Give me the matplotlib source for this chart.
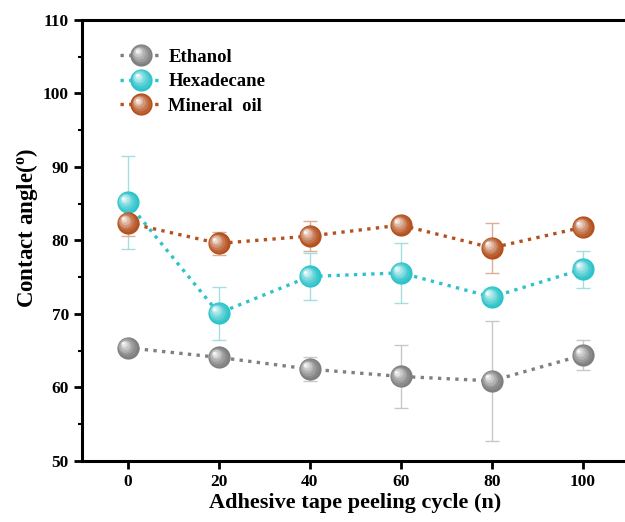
import numpy as np
import matplotlib
matplotlib.use("Agg")
import matplotlib.pyplot as plt
from matplotlib.transforms import ScaledTranslation
from matplotlib.legend_handler import HandlerBase
from matplotlib.lines import Line2D
from matplotlib.colors import to_rgb

# ---- data ----
cycles = [0, 20, 40, 60, 80, 100]
ethanol = [65.4, 64.1, 62.5, 61.5, 60.9, 64.4]
ethanol_err = [0.8, 0.8, 1.6, 4.3, 8.2, 2.0]
hexadecane = [85.2, 70.1, 75.1, 75.6, 72.3, 76.1]
hexadecane_err = [6.3, 3.6, 3.2, 4.1, 1.0, 2.5]
mineral = [82.4, 79.6, 80.6, 82.1, 79.0, 81.8]
mineral_err = [1.8, 1.6, 2.0, 0.6, 3.4, 0.6]
series_names = ["Ethanol", "Hexadecane", "Mineral  oil"]
yticks = [50, 60, 70, 80, 90, 100, 110]
xticks = [0, 20, 40, 60, 80, 100]
xlabel = "Adhesive tape peeling cycle (n)"
ylabel = r"Contact angle($^{\mathregular{o}}$)"

colors = ["#7f7f7f", "#2cc3c9", "#b4511e"]
err_colors = ["#c8c8c8", "#a5dde0", "#dcae94"]

plt.rcParams['font.family'] = ['Liberation Serif', 'DejaVu Serif']
plt.rcParams['font.weight'] = 'bold'
plt.rcParams['mathtext.default'] = 'regular'

fig = plt.figure(figsize=(6.25, 5.22), dpi=100)
ax = fig.add_axes([0.1312, 0.1169, 0.8744, 0.8448])

MS = 16.0  # marker size in points
N_LAYERS = 7


def layer_params(k, base):
    f = k / (N_LAYERS - 1)
    size = MS * (1 - 0.88 * f)
    c = np.array(to_rgb(base))
    col = c + (np.ones(3) - c) * (f ** 1.3) * 0.97
    off = 0.045 * f  # inches toward upper-left
    return size, col, off


def draw_spheres(ax, x, y, base, z):
    for k in range(N_LAYERS):
        size, col, off = layer_params(k, base)
        tr = ax.transData + ScaledTranslation(-off, off, fig.dpi_scale_trans)
        ax.plot(x, y, linestyle='none', marker='o', markersize=size,
                markerfacecolor=col, markeredgecolor='none', transform=tr,
                zorder=z + k * 0.01)


data = [(ethanol, ethanol_err), (hexadecane, hexadecane_err), (mineral, mineral_err)]
handles = []
for i, ((vals, errs), c, ec, name) in enumerate(zip(data, colors, err_colors, series_names)):
    ax.errorbar(cycles, vals, yerr=errs, fmt='none', ecolor=ec, elinewidth=1.0,
                capsize=5, capthick=1.0, zorder=2)
    ax.plot(cycles, vals, linestyle=(0, (1, 1.6)), linewidth=2.4, color=c, zorder=3)
    draw_spheres(ax, cycles, vals, c, 4 + i)
    handles.append(Line2D([], [], color=c, label=name))


class SphereHandler(HandlerBase):
    def create_artists(self, legend, orig_handle, xdescent, ydescent, width,
                       height, fontsize, trans):
        c = orig_handle.get_color()
        yc = height / 2 - ydescent
        arts = []
        ln = Line2D([-xdescent, width - xdescent], [yc, yc], color=c,
                    linestyle=(0, (1, 1.6)), linewidth=2.4, transform=trans)
        arts.append(ln)
        xc = width / 2 - xdescent
        for k in range(N_LAYERS):
            size, col, off = layer_params(k, c)
            offp = off * 72
            m = Line2D([xc - offp], [yc + offp], linestyle='none', marker='o',
                       markersize=size, markerfacecolor=col,
                       markeredgecolor='none', transform=trans)
            arts.append(m)
        return arts


leg = ax.legend(handles=handles, handler_map={Line2D: SphereHandler()},
                loc='upper left', bbox_to_anchor=(0.045, 0.965), frameon=False,
                fontsize=13.5, handlelength=2.3, handletextpad=0.3,
                labelspacing=0.4, borderaxespad=0.3)
for t in leg.get_texts():
    t.set_fontweight('bold')

ax.set_xlim(-10, 110)
ax.set_ylim(50, 110)
ax.set_xticks(xticks)
ax.set_yticks(yticks)
ax.set_yticks(np.arange(55, 110, 10), minor=True)
ax.tick_params(axis='both', which='major', direction='out', length=5.5, width=2,
               labelsize=12.5, pad=4)
ax.tick_params(axis='y', which='minor', direction='out', length=3, width=1.5)
for lab in ax.get_xticklabels() + ax.get_yticklabels():
    lab.set_fontweight('bold')

for s in ['left', 'bottom', 'top']:
    ax.spines[s].set_linewidth(2.2)
ax.spines['right'].set_visible(False)

ax.set_xlabel(xlabel, fontsize=16, fontweight='bold', labelpad=2)
ax.set_ylabel(ylabel, fontsize=16.5, fontweight='bold', labelpad=6)
ax.yaxis.set_label_coords(-0.077, 0.528)

fig.savefig("out.png", dpi=100)
